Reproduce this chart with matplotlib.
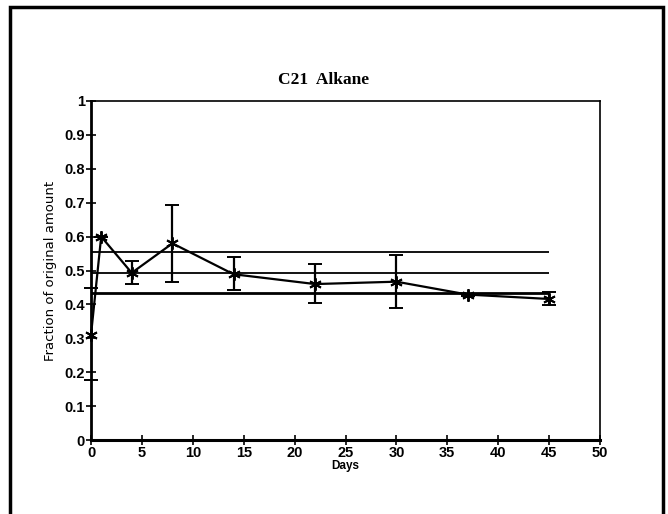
import matplotlib
matplotlib.use("Agg")
import matplotlib.pyplot as plt
from matplotlib.patches import Rectangle

# measured fraction of C21 alkane remaining
days = [0, 1, 4, 8, 14, 22, 30, 37, 45]
fraction = [0.31, 0.60, 0.493, 0.58, 0.489, 0.46, 0.467, 0.429, 0.416]
err_low = [0.177, 0.60, 0.459, 0.465, 0.442, 0.405, 0.39, 0.426, 0.398]
err_high = [0.447, 0.60, 0.529, 0.693, 0.541, 0.52, 0.545, 0.432, 0.436]

# reference band (mean and +/- limits)
band_levels = [0.555, 0.493, 0.433]
band_start, band_end = 0, 45

xticks = [0, 5, 10, 15, 20, 25, 30, 35, 40, 45, 50]
yticks = [0, 0.1, 0.2, 0.3, 0.4, 0.5, 0.6, 0.7, 0.8, 0.9, 1]

fig = plt.figure(figsize=(6.68, 5.14), dpi=100)
ax = fig.add_axes([91 / 668, 1 - 440 / 514, 509 / 668, 339 / 514])

# outer frame of the page
fig.patches.append(Rectangle((10 / 668, -0.05), 653 / 668, 1 - 7 / 514 + 0.05,
                             transform=fig.transFigure, fill=False,
                             edgecolor="black", linewidth=2.5))

for lvl, lw in zip(band_levels, [1.3, 1.3, 2.0]):
    ax.hlines(lvl, band_start, band_end, colors="black", linewidth=lw)

yerr = [[f - lo for f, lo in zip(fraction, err_low)],
        [hi - f for f, hi in zip(fraction, err_high)]]
eb = ax.errorbar(days, fraction, yerr=yerr, color="black", linewidth=1.6,
                 elinewidth=1.6, capsize=5, capthick=1.6,
                 marker=(6, 2, 0), markersize=9, markeredgewidth=1.4)
eb[0].set_clip_on(False)
for art in eb[1]:
    art.set_clip_on(False)

ax.set_xlim(0, 50)
ax.set_ylim(0, 1)
ax.set_xticks(xticks)
ax.set_yticks(yticks)
ax.set_xticklabels([str(t) for t in xticks], fontweight="bold",
                   fontfamily="Liberation Sans", fontsize=10.5)
ax.set_yticklabels(["0", "0.1", "0.2", "0.3", "0.4", "0.5", "0.6", "0.7",
                    "0.8", "0.9", "1"], fontweight="bold",
                   fontfamily="Liberation Sans", fontsize=10.5)
ax.tick_params(direction="inout", length=7, width=1.2, pad=1)
for s in ax.spines.values():
    s.set_linewidth(1.2)
ax.spines["bottom"].set_linewidth(2.2)
ax.spines["left"].set_linewidth(2.0)

ax.set_xlabel("Days", fontweight="bold", fontfamily="Liberation Sans",
              fontsize=8.5, labelpad=0)
ax.set_ylabel("Fraction of original amount", fontfamily="DejaVu Sans",
              fontsize=9.5, labelpad=5)

fig.text(324 / 668, 1 - 80 / 514, "C21  Alkane", ha="center", va="center",
         fontfamily="Liberation Serif", fontweight="bold", fontsize=12.5)

fig.savefig("out.png", dpi=100)
